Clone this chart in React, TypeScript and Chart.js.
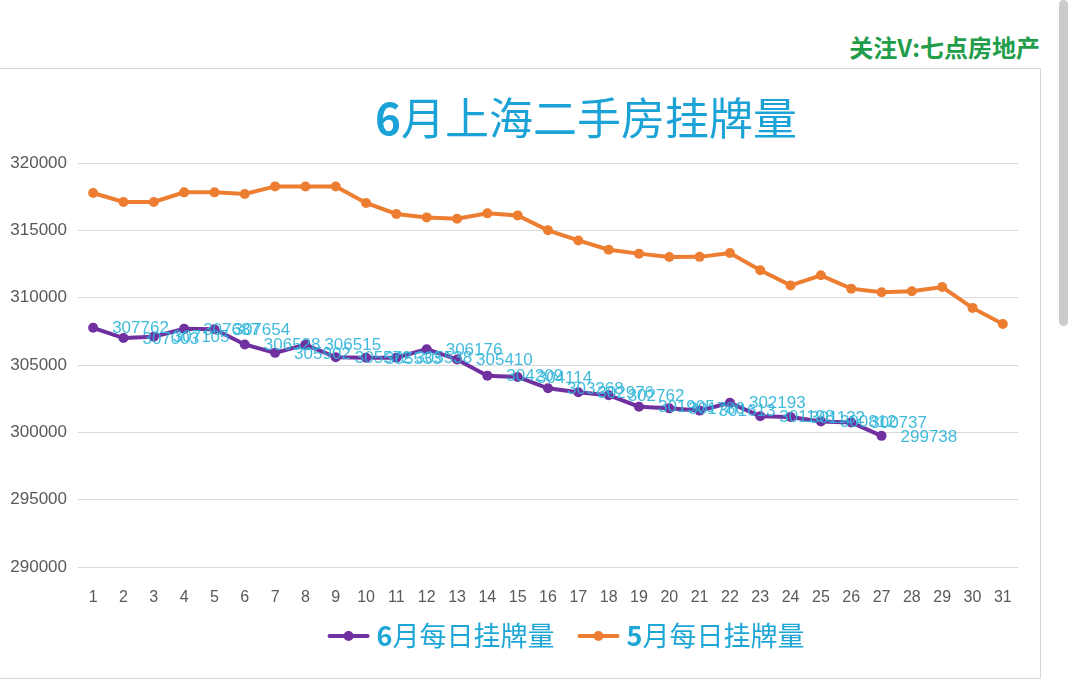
import React, { useEffect, useRef } from "react";
import { Chart, registerables } from "chart.js";

Chart.register(...registerables);

const days = ["1","2","3","4","5","6","7","8","9","10","11","12","13","14","15","16","17","18","19","20","21","22","23","24","25","26","27","28","29","30","31"];

const juneValues = [307762, 307003, 307105, 307687, 307654, 306528, 305902, 306515, 305572, 305533, 305538, 306176, 305410, 304209, 304114, 303268, 302976, 302762, 301905, 301780, 301613, 302193, 301198, 301132, 300812, 300737, 299738];

const mayValues = [317770, 317105, 317105, 317820, 317820, 317700, 318263, 318260, 318260, 317030, 316214, 315960, 315865, 316260, 316110, 315000, 314250, 313560, 313270, 313020, 313030, 313320, 312030, 310910, 311660, 310670, 310400, 310470, 310790, 309240, 308050];

const seriesNames = ["6月每日挂牌量", "5月每日挂牌量"];
const seriesColors = ["#7030a0", "#ed7d31"];
const titleParts = ["6", "月上海二手房挂牌量"];
const watermark = "关注V:七点房地产";
const yMin = 290000;
const yMax = 320000;
const yStep = 5000;

const CJK = "'Noto Sans CJK SC', 'Noto Sans', sans-serif";
const LATIN = "'Liberation Sans', Arial, sans-serif";

const valueLabels = {
  id: "valueLabels",
  afterDatasetsDraw(chart: any) {
    const meta = chart.getDatasetMeta(0);
    const ctx = chart.ctx;
    ctx.save();
    ctx.font = `17px ${LATIN}`;
    ctx.fillStyle = "rgba(44,180,216,0.9)";
    ctx.textAlign = "left";
    ctx.textBaseline = "middle";
    meta.data.forEach((pt: any, i: number) => {
      ctx.fillText(String(juneValues[i]), pt.x + 19, pt.y + 1);
    });
    ctx.restore();
  },
};

const titleAndLegend = {
  id: "titleAndLegend",
  afterDraw(chart: any) {
    const ctx = chart.ctx;
    ctx.save();
    // Title
    const tSize = 44;
    ctx.textBaseline = "middle";
    ctx.textAlign = "left";
    ctx.font = `bold ${tSize}px ${CJK}`;
    const w1 = ctx.measureText(titleParts[0]).width;
    ctx.font = `${tSize}px ${CJK}`;
    const w2 = ctx.measureText(titleParts[1]).width;
    const tcx = 586;
    let tx = tcx - (w1 + w2) / 2;
    ctx.fillStyle = "#1ba3d8";
    ctx.font = `bold ${tSize}px ${CJK}`;
    ctx.fillText(titleParts[0], tx, 118);
    ctx.font = `${tSize}px ${CJK}`;
    ctx.fillText(titleParts[1], tx + w1, 118);

    // Legend
    const lSize = 27;
    const ly = 636;
    const markerW = 42;
    const gapText = 7;
    const gapItem = 23;
    const items = seriesNames.map((name) => {
      const head = name.slice(0, 1);
      const rest = name.slice(1);
      ctx.font = `bold ${lSize}px ${CJK}`;
      const hw = ctx.measureText(head).width;
      ctx.font = `${lSize}px ${CJK}`;
      const rw = ctx.measureText(rest).width;
      return { head, rest, hw, rw, total: markerW + gapText + hw + rw };
    });
    const totalW = items.reduce((s, it) => s + it.total, 0) + gapItem * (items.length - 1);
    let lx = 566 - totalW / 2;
    items.forEach((it, i) => {
      const col = seriesColors[i];
      ctx.strokeStyle = col;
      ctx.lineWidth = 4;
      ctx.lineCap = "round";
      ctx.beginPath();
      ctx.moveTo(lx + 2, ly);
      ctx.lineTo(lx + markerW - 2, ly);
      ctx.stroke();
      ctx.fillStyle = col;
      ctx.beginPath();
      ctx.arc(lx + markerW / 2, ly, 5, 0, Math.PI * 2);
      ctx.fill();
      let x = lx + markerW + gapText;
      ctx.fillStyle = "#1ea6d6";
      ctx.font = `bold ${lSize}px ${CJK}`;
      ctx.fillText(it.head, x, ly);
      ctx.font = `${lSize}px ${CJK}`;
      ctx.fillText(it.rest, x + it.hw, ly);
      lx += it.total + gapItem;
    });
    ctx.restore();
  },
};

function LineChart() {
  const ref = useRef<HTMLCanvasElement | null>(null);
  useEffect(() => {
    if (!ref.current) return;
    const chart = new Chart(ref.current, {
      type: "line",
      data: {
        labels: days,
        datasets: [
          {
            label: seriesNames[0],
            data: juneValues,
            borderColor: seriesColors[0],
            backgroundColor: seriesColors[0],
            pointBackgroundColor: seriesColors[0],
            pointBorderColor: seriesColors[0],
            borderWidth: 4,
            pointRadius: 5,
            pointBorderWidth: 0,
            tension: 0,
          },
          {
            label: seriesNames[1],
            data: mayValues,
            borderColor: seriesColors[1],
            backgroundColor: seriesColors[1],
            pointBackgroundColor: seriesColors[1],
            pointBorderColor: seriesColors[1],
            borderWidth: 4,
            pointRadius: 5,
            pointBorderWidth: 0,
            tension: 0,
          },
        ],
      },
      options: {
        animation: false,
        responsive: false,
        events: [],
        layout: { padding: { left: 0, right: 62, top: 163, bottom: 85 } },
        plugins: {
          legend: { display: false },
          title: { display: false },
          tooltip: { enabled: false },
        },
        scales: {
          x: {
            type: "category",
            offset: true,
            grid: { display: false },
            border: { display: false },
            ticks: {
              color: "#595959",
              font: { size: 16, family: LATIN },
              padding: 13,
              maxRotation: 0,
              autoSkip: false,
            },
            afterFit: (axis: any) => {
              axis.height = 40;
            },
          },
          y: {
            min: yMin,
            max: yMax,
            grid: { color: "#d9d9d9", lineWidth: 1, drawTicks: false },
            border: { display: false },
            ticks: {
              stepSize: yStep,
              color: "#595959",
              font: { size: 17, family: LATIN },
              padding: 11,
              callback: (v: any) => String(v),
            },
            afterFit: (axis: any) => {
              axis.width = 78;
            },
          },
        },
      },
      plugins: [valueLabels, titleAndLegend],
    });
    return () => chart.destroy();
  }, []);
  return (
    <canvas
      ref={ref}
      width={1080}
      height={692}
      style={{ position: "absolute", left: 0, top: 0, width: 1080, height: 692 }}
    />
  );
}

export default function App() {
  return (
    <div
      style={{
        position: "absolute",
        left: 0,
        top: 0,
        width: 1080,
        height: 692,
        overflow: "hidden",
        background: "#ffffff",
      }}
    >
      <div
        style={{
          position: "absolute",
          right: 40,
          top: 31,
          fontFamily: CJK,
          fontWeight: 700,
          fontSize: 24,
          lineHeight: "32px",
          color: "#1f9d4b",
          whiteSpace: "nowrap",
        }}
      >
        {watermark}
      </div>
      <div
        style={{
          position: "absolute",
          left: -4,
          top: 68,
          width: 1045,
          height: 611,
          boxSizing: "border-box",
          border: "1px solid #d6d6d6",
          background: "#ffffff",
        }}
      />
      <div
        style={{
          position: "absolute",
          left: 1059,
          top: 0,
          width: 9,
          height: 326,
          borderRadius: 5,
          background: "#cbcbcb",
        }}
      />
      <LineChart />
    </div>
  );
}
